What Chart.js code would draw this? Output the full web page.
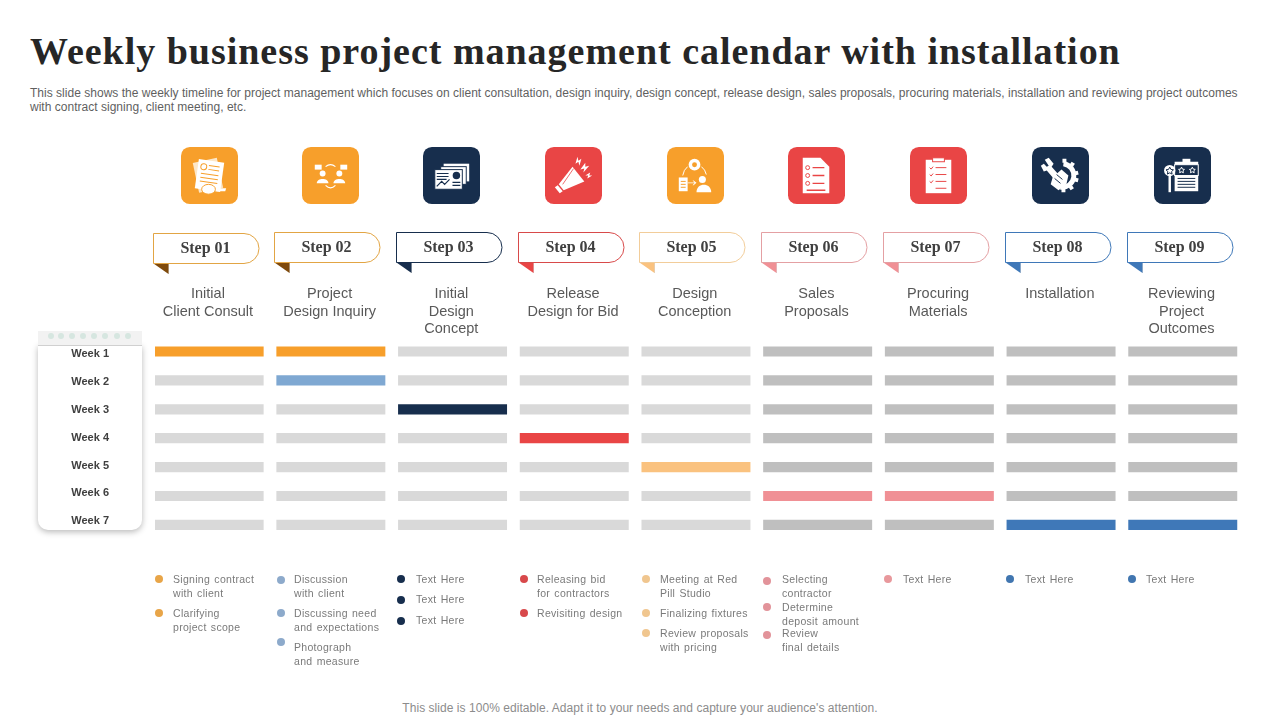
<!DOCTYPE html>
<html>
<head>
<meta charset="utf-8">
<title>Weekly business project management calendar</title>
<script src="https://cdn.jsdelivr.net/npm/chart.js@4/dist/chart.umd.min.js"></script>
<style>
html, body { margin: 0; padding: 0; background: #fff; }
#page { position: relative; width: 1280px; height: 720px; overflow: hidden; font-family: "Liberation Sans", sans-serif; }
#page > * { position: absolute; }
#myChart { left: 0; top: 0; }
.title { left: 30px; top: 29px; font: bold 38px "Liberation Serif", serif; letter-spacing: 0.98px; color: #262626; white-space: nowrap; }
.subtitle { left: 30px; top: 85.5px; font-size: 12px; line-height: 14px; letter-spacing: 0.02px; color: #5f5f5f; white-space: pre; }
.footer { left: 0; width: 1280px; top: 701px; text-align: center; font-size: 12px; line-height: 14px; letter-spacing: 0.045px; color: #8c8c8c; }
.cardTop { left: 38px; top: 331px; width: 104px; height: 14px; background: #f2f2f2; }
.cardDot { width: 6px; height: 6px; border-radius: 3px; background: #d6e6e0; top: 333px; }
.card { left: 38px; top: 345px; width: 104px; height: 185px; background: #fff; border-top: 1px solid #d0d0d0; box-sizing: border-box; border-radius: 0 0 10px 10px; box-shadow: 0 2px 6px rgba(0,0,0,.28); }
.icon { width: 57px; height: 57px; top: 147px; }
.pill { width: 108px; height: 42px; }
.note { font-size: 10.5px; line-height: 14px; letter-spacing: 0.3px; word-spacing: 1px; color: #7a7a7a; white-space: pre; }
.dot { width: 8px; height: 8px; border-radius: 4px; }
</style>
</head>
<body>
<div id="page">
    <div class="title">Weekly business project management calendar with installation</div>
    <div class="subtitle">This slide shows the weekly timeline for project management which focuses on client consultation, design inquiry, design concept, release design, sales proposals, procuring materials, installation and reviewing project outcomes
with contract signing, client meeting, etc.</div>
    <div class="footer">This slide is 100% editable. Adapt it to your needs and capture your audience's attention.</div>
    <div class="card"></div>
    <div class="cardTop"></div>
    <canvas id="myChart" width="1280" height="720"></canvas>
</div>
<script>
// chart data
var stepLabels = ['Step 01', 'Step 02', 'Step 03', 'Step 04', 'Step 05', 'Step 06', 'Step 07', 'Step 08', 'Step 09'];
var stepNames = [
    ['Initial', 'Client Consult'],
    ['Project', 'Design Inquiry'],
    ['Initial', 'Design', 'Concept'],
    ['Release', 'Design for Bid'],
    ['Design', 'Conception'],
    ['Sales', 'Proposals'],
    ['Procuring', 'Materials'],
    ['Installation'],
    ['Reviewing', 'Project', 'Outcomes']
];
var weeks = ['Week 1', 'Week 2', 'Week 3', 'Week 4', 'Week 5', 'Week 6', 'Week 7'];
// which weeks (0 based) are marked for each step
var activeWeeks = [[0], [0, 1], [2], [3], [4], [5], [5], [6], [6]];

var notes = [
    ['Signing contract\nwith client', 'Clarifying\nproject scope'],
    ['Discussion\nwith client', 'Discussing need\nand expectations', 'Photograph\nand measure'],
    ['Text Here', 'Text Here', 'Text Here'],
    ['Releasing bid\nfor contractors', 'Revisiting design'],
    ['Meeting at Red\nPill Studio', 'Finalizing fixtures', 'Review proposals\nwith pricing'],
    ['Selecting\ncontractor', 'Determine\ndeposit amount', 'Review\nfinal details'],
    ['Text Here'],
    ['Text Here'],
    ['Text Here']
];

// styles and layout
var ORANGE = '#f79f2b', BLUE = '#7fa8d2', NAVY = '#172e4d', RED = '#e94545', PEACH = '#fac27f', PINK = '#f09095', STEEL = '#3f78b8';
var activeColors = [[ORANGE], [ORANGE, BLUE], [NAVY], [RED], [PEACH], [PINK], [PINK], [STEEL], [STEEL]];
var restColors = ['#d9d9d9', '#d9d9d9', '#d9d9d9', '#d9d9d9', '#d9d9d9', '#bfbfbf', '#bfbfbf', '#bfbfbf', '#bfbfbf'];
var iconColors = [ORANGE, ORANGE, NAVY, RED, ORANGE, RED, RED, NAVY, NAVY];
var pillBorders = ['#e2a544', '#e2a544', NAVY, '#d84a4a', '#f2cd9a', '#e4a0a3', '#e4a0a3', STEEL, STEEL];
var pillFolds = ['#7f4a0c', '#7f4a0c', NAVY, RED, PEACH, PINK, PINK, STEEL, STEEL];
var dotColors = ['#e8a548', '#8daacb', NAVY, '#d8494b', '#f0c68f', '#e2939a', '#e8989c', '#4176b0', '#4176b0'];

var iconLefts = [181, 302, 423, 545, 667, 788, 910, 1032, 1154];
var pillLefts = [153, 274, 396, 518, 639, 761, 883, 1005, 1127];
var pillTops = [233, 232, 232, 232, 232, 232, 232, 232, 232];
var dotLefts = [155, 277, 397, 520, 642, 763, 884, 1006, 1128];
var textLefts = [173, 294, 416, 537, 660, 782, 903, 1025, 1146];
var noteTops = [[572, 606], [572, 606, 640], [572, 592, 613], [572, 606], [572, 606, 626], [572, 600, 626], [572], [572], [572]];
var dotTops = [[575, 609], [576, 609, 638], [575, 596, 617], [575, 609], [575, 609, 629], [577, 603, 631], [575], [575], [575]];
var cardDotLefts = [48, 58, 69, 80, 91, 102, 114, 125];

var BAR_SPAN = 0.89;   // bar length in step units
var LABEL_POS = 0.435; // step name position inside a step

var W = 'fill="#fff"';
function icon(color, inner) {
    return '<svg viewBox="0 0 58 58" width="57" height="57"><rect width="58" height="58" rx="9" fill="' + color + '"/>' + inner + '</svg>';
}
var iconShapes = [
    '<g transform="rotate(-12 29 29)"><rect x="15" y="13" width="25" height="31" fill="#fde7c8"/></g><g transform="rotate(8 29 29)"><rect x="16" y="14" width="26" height="30" ' + W + '/><g stroke="' + ORANGE + '" stroke-width="1"><path d="M27 19h11M27 23h11M20 28h18M20 32h18M20 36h18"/></g><circle cx="22" cy="21" r="3" fill="none" stroke="' + ORANGE + '"/></g><ellipse cx="28" cy="43" rx="7" ry="5" ' + W + ' stroke="' + ORANGE + '"/><path d="M36 42h10l-1 3H36z" ' + W + '/>',
    '<g ' + W + '><rect x="13" y="18" width="7" height="5"/><rect x="39" y="18" width="7" height="5"/><circle cx="21" cy="27" r="3"/><circle cx="38" cy="27" r="3"/><path d="M15 37c0-6 12-6 12 0zM32 37c0-6 12-6 12 0z"/></g><g fill="none" stroke="#fff" stroke-width="1.2"><path d="M24 20q5-4 10 0M24 39q5 5 10 0"/></g>',
    '<g ' + W + '><rect x="21" y="17" width="26" height="18"/><rect x="18" y="20" width="26" height="18" stroke="' + NAVY + '"/><rect x="12" y="23" width="28" height="20" stroke="' + NAVY + '"/></g><g fill="none" stroke="' + NAVY + '" stroke-width="1.2"><path d="M14 27h12M14 30h12M14 33h10M14 40l5-5 3 3 5-5M30 36h8M30 39h8"/></g><circle cx="34" cy="29" r="3.8" fill="' + NAVY + '"/>',
    '<g ' + W + '><path d="M28 20L40 35 19 44 14 38z"/><path d="M13 39l5 6-3 2-5-6z"/><path d="M33 10l1 4 3-2-2 7-1-4-3 2zM41 16l0 4 4-1-6 7 1-4-4 1zM46 26l-1 3 3 0-5 3 1-3-3 0z"/></g><path d="M29 22l-11 16" stroke="' + RED + '" stroke-width="0.8"/>',
    '<g ' + W + '><circle cx="28" cy="18" r="6"/><path d="M12 31h9v14h-9z"/><circle cx="36" cy="33" r="3.6"/><path d="M30 46c0-10 15-10 15 0z"/><path d="M21 36h7l-2-2 1 0 3 2.5-3 2.5-1 0 2-2h-7z"/></g><circle cx="28" cy="18" r="2.5" fill="' + ORANGE + '"/><g stroke="' + ORANGE + '"><path d="M14 35h5M14 38h5M14 41h5"/></g><g fill="none" stroke="#fff"><path d="M21 20q-4 3-5 9M35 20q4 3 5 8"/></g>',
    '<path d="M15 11h18l9 9v27H15z" ' + W + '/><g stroke="' + RED + '" stroke-width="1.3"><path d="M25 21h12M25 29h12M25 37h12M19 44h19"/></g><g fill="none" stroke="' + RED + '"><circle cx="20" cy="21" r="2"/><circle cx="20" cy="29" r="2"/><circle cx="20" cy="37" r="2"/></g>',
    '<rect x="16" y="13" width="26" height="34" ' + W + '/><rect x="23" y="11" width="12" height="4" ' + W + ' stroke="' + RED + '"/><g stroke="' + RED + '" stroke-width="1"><path d="M26 21h11M26 28h11M26 35h11M26 42h11"/></g><g fill="none" stroke="' + RED + '"><path d="M20 21l1.5 1.5 2-2.5M20 28l1.5 1.5 2-2.5M20 35l1.5 1.5 2-2.5"/></g>',
    '<g fill="none" stroke="#fff" stroke-width="5"><path d="M32 17a12 12 0 1 1-3 24"/><path d="M33 12v4M42 16l-2 3M47 26l-4 1M47 34l-4-1M41 43l-2-3M32 46v-4" stroke-width="4"/></g><g ' + W + '><path d="M13 13l4-2 5 6-2 3 7 8-5 4-7-8-3 1-3-6 3-2 3 3 2-1z"/><path d="M21 31l9-8 7 6-2 9-8 6-8-6z"/></g><path d="M25 28l6 5M23 32l6 5" stroke="' + NAVY + '"/>',
    '<rect x="21" y="15" width="24" height="30" ' + W + '/><rect x="29" y="12" width="8" height="5" ' + W + '/><rect x="21" y="18" width="24" height="11" fill="' + NAVY + '" stroke="#fff"/><g stroke="' + NAVY + '"><path d="M24 32h18M24 35h18M24 38h18M24 41h18"/></g><path d="M16 29v17" stroke="#fff" stroke-width="2.5"/><circle cx="16" cy="24" r="5.8" ' + W + '/><g fill="none" stroke="' + NAVY + '"><path d="M16 20.5l1.2 2.3 2.6.4-1.9 1.8.5 2.6-2.4-1.3-2.4 1.3.5-2.6-1.9-1.8 2.6-.4z"/></g><g fill="none" stroke="#fff"><path d="M28 20.5l1 2 2 .3-1.5 1.4.4 2-1.9-1-1.9 1 .4-2L25 22.8l2-.3zM39 20.5l1 2 2 .3-1.5 1.4.4 2-1.9-1-1.9 1 .4-2L36 22.8l2-.3z"/></g>'
];

function pillSvg(i) {
    var b = pillBorders[i];
    return '<svg viewBox="0 0 108 42" width="108" height="42">' +
        '<path d="M15.5 30v11" stroke="#d9d9d9"/>' +
        '<path d="M0.5 30.5L15.5 41V30.5z" fill="' + pillFolds[i] + '"/>' +
        '<path d="M0.5 0.5H91a15 15 0 0 1 0 30H0.5z" fill="#fff" stroke="' + b + '"/>' +
        '<text x="52.5" y="19.5" text-anchor="middle" font-family="Liberation Serif" font-weight="bold" font-size="16" fill="#404040">' + stepLabels[i] + '</text></svg>';
}

function adicionarElemento(classe, left, top, html, cor) {
    var el = document.createElement('div');
    el.className = classe;
    el.style.left = left + 'px';
    el.style.top = top + 'px';
    if (cor) el.style.background = cor;
    if (html) {
        if (classe === 'note') el.textContent = html; else el.innerHTML = html;
    }
    document.getElementById('page').appendChild(el);
}

function montarDecoracao() {
    cardDotLefts.forEach(function (x) { adicionarElemento('cardDot', x, 333); });
    stepLabels.forEach(function (s, i) {
        adicionarElemento('icon', iconLefts[i], 147, icon(iconColors[i], iconShapes[i]));
        adicionarElemento('pill', pillLefts[i], pillTops[i], pillSvg(i));
        notes[i].forEach(function (txt, n) {
            adicionarElemento('dot', dotLefts[i], dotTops[i][n], null, dotColors[i]);
            adicionarElemento('note', textLefts[i], noteTops[i][n], txt);
        });
    });
}

function carregarGrafico() {
    var datasets = stepLabels.map(function (s, i) {
        return {
            label: s,
            grouped: false,
            barThickness: 9.5,
            data: weeks.map(function () { return [i, i + BAR_SPAN]; }),
            backgroundColor: weeks.map(function (w, k) {
                var pos = activeWeeks[i].indexOf(k);
                return pos >= 0 ? activeColors[i][pos] : restColors[i];
            })
        };
    });

    new Chart(document.getElementById('myChart').getContext('2d'), {
        type: 'bar',
        data: { labels: weeks, datasets: datasets },
        options: {
            indexAxis: 'y',
            responsive: false,
            devicePixelRatio: 1,
            animation: false,
            layout: { padding: { left: 0, top: 0, right: 29.7, bottom: 180.65 } },
            plugins: { legend: { display: false }, title: { display: false }, tooltip: { enabled: false } },
            scales: {
                x: {
                    type: 'linear',
                    position: 'top',
                    min: 0,
                    max: 9,
                    border: { display: false },
                    grid: { display: false, drawTicks: false },
                    afterFit: function (scale) { scale.height = 337.05; },
                    afterBuildTicks: function (scale) {
                        scale.ticks = stepNames.map(function (n, i) { return { value: i + LABEL_POS }; });
                    },
                    ticks: {
                        autoSkip: false,
                        maxRotation: 0,
                        crossAlign: 'far',
                        padding: -1,
                        color: '#595959',
                        font: { family: 'Liberation Sans', size: 14.5, lineHeight: 1.22 },
                        callback: function (value, index) { return stepNames[index]; }
                    }
                },
                // bars sit on this axis, the labels come from y2 (the week labels are spaced tighter than the bars)
                y: { type: 'category', display: false },
                y2: {
                    type: 'linear',
                    position: 'left',
                    reverse: true,
                    offset: false,
                    bounds: 'data',
                    min: -0.59,
                    max: 6.64,
                    border: { display: false },
                    grid: { display: false, drawTicks: false, offset: false },
                    afterFit: function (scale) { scale.width = 155; },
                    afterBuildTicks: function (scale) {
                        scale.ticks = weeks.map(function (w, k) { return { value: k }; });
                        scale.min = -0.59;
                        scale.max = 6.64;
                    },
                    ticks: {
                        autoSkip: false,
                        padding: 46,
                        color: '#404040',
                        font: { family: 'Liberation Sans', size: 11, weight: 'bold' },
                        callback: function (value, index) { return weeks[index]; }
                    }
                }
            }
        }
    });
}

montarDecoracao();
carregarGrafico();
</script>
</body>
</html>
